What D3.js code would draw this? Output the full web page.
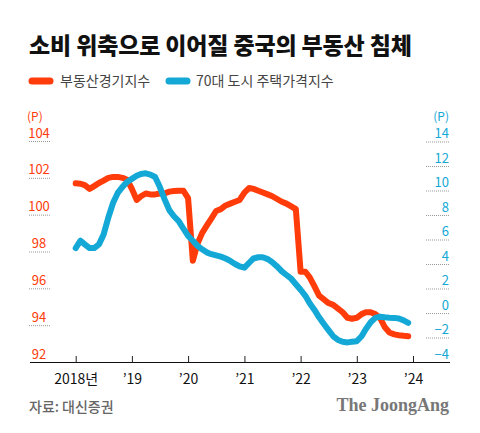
<!DOCTYPE html>
<html><head><meta charset="utf-8">
<script src="https://cdn.jsdelivr.net/npm/d3@7"></script>
<style>
body{margin:0;background:#fff;}
svg{display:block;font-family:"Noto Sans CJK KR","Noto Sans",sans-serif;}
</style></head>
<body><svg id="c" width="480" height="433"></svg>
<script>
const title = "소비 위축으로 이어질 중국의 부동산 침체";
const seriesNames = ["부동산경기지수", "70대 도시 주택가격지수"];
const startMonth = "2018-01";
// 부동산경기지수 (left axis), monthly from Jan 2018
const climateIndex = [101.7,101.68,101.6,101.4,101.55,101.72,101.85,102.0,102.05,102.05,102.0,101.9,
  101.4,100.8,101.0,101.15,101.1,101.1,101.15,101.15,101.25,101.28,101.3,101.3,
  100.9,97.5,98.4,99.0,99.4,99.8,100.2,100.3,100.5,100.6,100.7,100.8,
  101.2,101.45,101.4,101.3,101.2,101.1,101.0,100.85,100.7,100.6,100.45,100.3,
  96.9,96.9,96.6,96.1,95.6,95.4,95.2,95.1,94.9,94.7,94.4,94.35,
  94.4,94.6,94.7,94.7,94.6,94.4,93.9,93.6,93.5,93.45,93.42,93.4];
// 70대 도시 주택가격지수 (right axis)
const priceIndex = [5.3,5.9,5.6,5.3,5.3,5.6,6.4,7.8,9.0,9.8,10.3,10.7,
  10.95,11.2,11.35,11.4,11.3,11.1,10.3,9.3,8.4,7.9,7.5,6.9,
  6.3,5.9,5.5,5.2,4.95,4.8,4.7,4.6,4.45,4.25,4.0,3.8,
  3.7,4.1,4.45,4.55,4.55,4.4,4.15,3.8,3.4,3.1,2.8,2.35,
  1.9,1.4,0.8,0.25,-0.35,-0.9,-1.4,-1.9,-2.2,-2.35,-2.4,-2.35,
  -2.3,-1.9,-1.3,-0.75,-0.4,-0.3,-0.35,-0.38,-0.4,-0.45,-0.6,-0.8];
const years = [2018,2019,2020,2021,2022,2023,2024];
const yearLabels = ["2018년","’19","’20","’21","’22","’23","’24"];
const leftTicks = [92,94,96,98,100,102,104];
const rightTicks = [-4,-2,0,2,4,6,8,10,12,14];
const source = "자료: 대신증권";
const brand = "The JoongAng";

const ORANGE = "#ff3c0a", BLUE = "#14a8d6";
const svg = d3.select("#c");
const t0 = d3.timeParse("%Y-%m")(startMonth);
const dates = climateIndex.map((_, i) => d3.timeMonth.offset(t0, i));

const x = d3.scaleTime().domain([new Date(2018,0,1), new Date(2024,0,1)]).range([75.7, 413]);
const yL = d3.scaleLinear().domain([92,104]).range([362,141]);
const yR = d3.scaleLinear().domain([-4,14]).range([362,141.5]);

// title
svg.append("text").attr("x",29).attr("y",54).attr("font-size",23).attr("font-weight",900)
  .attr("fill","#111").attr("letter-spacing",-0.15).text(title);

// legend
const lg = svg.append("g");
[[29,60,ORANGE,seriesNames[0]],[166,196,BLUE,seriesNames[1]]].forEach(([sx,tx,c,t])=>{
  lg.append("line").attr("x1",sx+3).attr("x2",sx+21).attr("y1",81).attr("y2",81)
    .attr("stroke",c).attr("stroke-width",7).attr("stroke-linecap","round");
  lg.append("text").attr("x",tx).attr("y",86).attr("font-size",14).attr("fill","#444").text(t);
});

// left axis labels
svg.append("text").attr("x",27).attr("y",121).attr("font-size",12).attr("fill",ORANGE).text("(P)");
leftTicks.forEach(v=>{
  svg.append("text").attr("x",39).attr("y",yL(v)-3.5).attr("text-anchor","middle")
    .attr("font-size",13).attr("fill",ORANGE).text(v);
  if (v>92) svg.append("line").attr("x1",29).attr("x2",50).attr("y1",yL(v)+0.5).attr("y2",yL(v)+0.5)
    .attr("stroke","#999").attr("stroke-dasharray","1,1");
});
// right axis labels
svg.append("text").attr("x",449).attr("y",121).attr("text-anchor","end").attr("font-size",12).attr("fill",BLUE).text("(P)");
rightTicks.forEach(v=>{
  svg.append("text").attr("x",449).attr("y",yR(v)-3.5).attr("text-anchor","end")
    .attr("font-size",13).attr("fill",BLUE).text(v<0?"−"+Math.abs(v):v);
  if (v>-4) svg.append("line").attr("x1",426).attr("x2",450).attr("y1",yR(v)+0.5).attr("y2",yR(v)+0.5)
    .attr("stroke","#999").attr("stroke-dasharray","1,1");
});

// x axis
const xAxis = d3.axisBottom(x).tickValues(years.map(y=>new Date(y,0,1)))
  .tickSizeInner(-6).tickSizeOuter(0).tickPadding(12)
  .tickFormat((d,i)=>yearLabels[i]);
const gx = svg.append("g").attr("transform","translate(0,362)").call(xAxis);
gx.select(".domain").remove();
gx.selectAll(".tick line").attr("stroke","#222");
gx.selectAll(".tick text").attr("font-size",14).attr("fill","#111").attr("font-family","'Noto Sans CJK KR',sans-serif");
svg.append("line").attr("x1",30).attr("x2",450).attr("y1",362.5).attr("y2",362.5).attr("stroke","#111");

// lines
const lineL = d3.line().x((d,i)=>x(dates[i])).y(d=>yL(d));
const lineR = d3.line().x((d,i)=>x(dates[i])).y(d=>yR(d));
svg.append("path").datum(climateIndex).attr("d",lineL).attr("fill","none").attr("stroke",ORANGE)
  .attr("stroke-width",6).attr("stroke-linejoin","round").attr("stroke-linecap","round");
svg.append("path").datum(priceIndex).attr("d",lineR).attr("fill","none").attr("stroke",BLUE)
  .attr("stroke-width",6).attr("stroke-linejoin","round").attr("stroke-linecap","round");

// footer
svg.append("text").attr("x",29).attr("y",412).attr("font-size",14).attr("font-weight",500).attr("fill","#666").text(source);
svg.append("text").attr("x",449).attr("y",411).attr("text-anchor","end").attr("font-size",18)
  .attr("font-weight",700).attr("font-family","'Liberation Serif','DejaVu Serif',serif")
  .attr("fill","#777").text(brand);
</script></body></html>
